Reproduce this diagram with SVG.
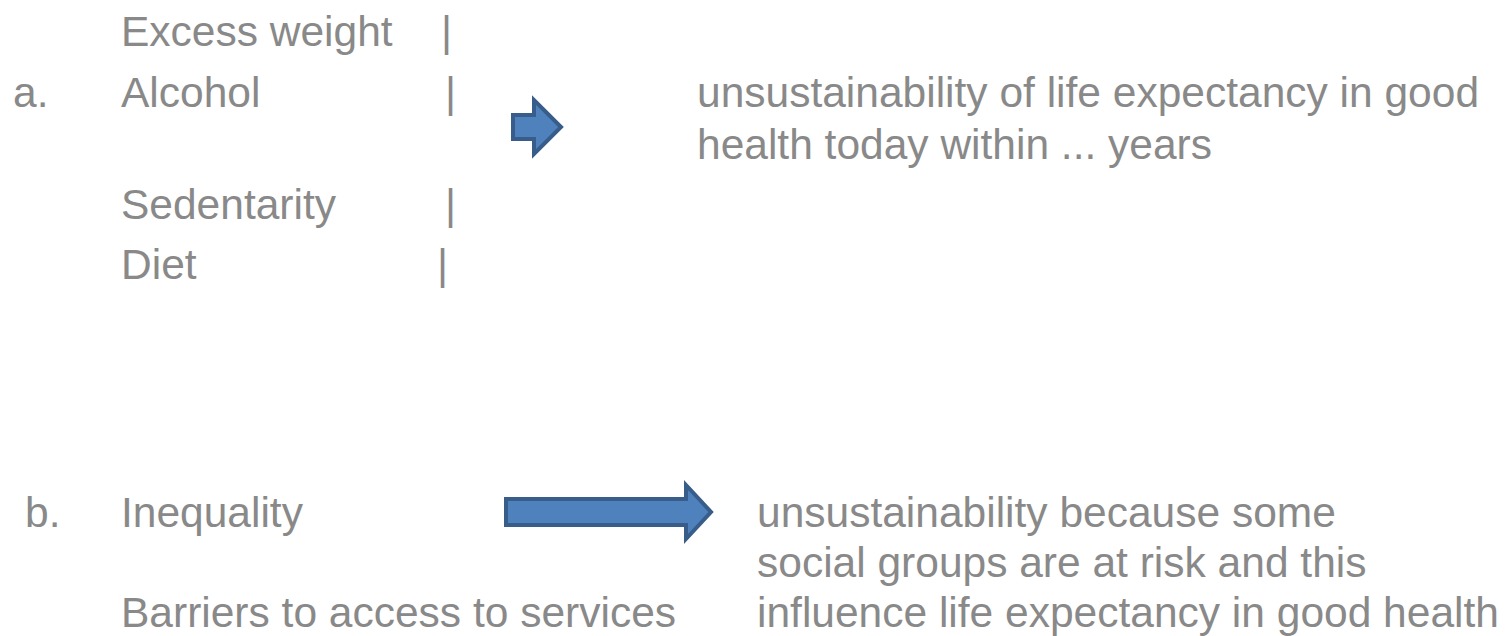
<svg xmlns="http://www.w3.org/2000/svg" width="1505" height="636" viewBox="0 0 1505 636">
<style>
text{font-family:"Liberation Sans",Arial,sans-serif;font-size:42.5px;fill:#898989}
.arrow{fill:#4F81BD;stroke:#385D8A;stroke-width:4;stroke-linejoin:miter}
</style>
<rect width="1505" height="636" fill="#ffffff"/>
<g id="group-a">
<text x="121" y="46">Excess weight</text>
<text x="441" y="46">|</text>
<text x="13" y="107">a.</text>
<text x="121" y="107">Alcohol</text>
<text x="445" y="107">|</text>
<text x="121" y="219">Sedentarity</text>
<text x="445" y="219">|</text>
<text x="121" y="279">Diet</text>
<text x="437" y="279">|</text>
</g>
<g id="result-a">
<text x="697" y="107">unsustainability of life expectancy in good</text>
<text x="697" y="159">health today within ... years</text>
</g>
<g id="group-b">
<text x="25" y="527">b.</text>
<text x="121" y="527">Inequality</text>
<text x="121" y="627">Barriers to access to services</text>
</g>
<g id="result-b">
<text x="757" y="527">unsustainability because some</text>
<text x="757" y="577">social groups are at risk and this</text>
<text x="757" y="627">influence life expectancy in good health</text>
</g>
<g id="connectors">
<path class="arrow" d="M513,115 H534 V100 L561,127 L534,154 V139 H513 Z"/>
<path class="arrow" d="M506,499 H686 V485 L711,512 L686,539 V525 H506 Z"/>
</g>
</svg>
